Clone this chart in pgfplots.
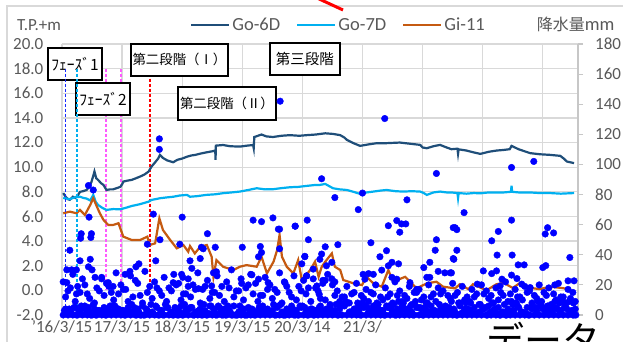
\documentclass[border=0pt]{standalone}
\usepackage{pgfplots}
\pgfplotsset{compat=1.18}
\usepackage{fontspec}
\setmainfont{Carlito}
\newfontfamily\jp{Noto Sans CJK JP}
\definecolor{gd}{RGB}{31,78,121}
\definecolor{gs}{RGB}{0,176,240}
\definecolor{gi}{RGB}{197,90,17}
\definecolor{rain}{RGB}{0,0,255}
\definecolor{gridc}{RGB}{217,217,217}
\definecolor{tickc}{RGB}{89,89,89}
\definecolor{pinkc}{RGB}{255,90,255}
\definecolor{bluedash}{RGB}{20,40,255}
\pgfplotsset{
  base/.style={width=516pt, height=271pt, scale only axis, xmin=0, xmax=8.586,
    every tick label/.append style={font=\fontsize{17}{17}\selectfont, text=tickc}},
}
\begin{document}
\begin{tikzpicture}
\begin{scope}[x=1pt,y=1pt,shift={(-62pt,-26pt)}]
\useasboundingbox (0,0) rectangle (623,341);
\fill[white] (0,0) rectangle (623,341);
\draw[gridc, line width=1.2pt] (7,-10) -- (7,335) -- (640,335);
\node[anchor=west, inner sep=0pt, text=tickc, font=\fontsize{17}{17}\selectfont] at (17,316) {T.P.+m};
\draw[red, line width=3pt] (317,343) -- (343,331);
\node[anchor=base west, inner sep=0pt, font=\jp\fontsize{38}{38}\selectfont] at (486,-13) {データ};
\end{scope}
\begin{axis}[base,
  ymin=-2, ymax=20,
  clip mode=individual,
  xtick={0,1,2,3,4,5,6,7,8},
  xticklabels={’16/3/15,17/3/15,18/3/15,19/3/15,20/3/14,21/3/,,,},
  ytick={-2,0,2,4,6,8,10,12,14,16,18,20},
  yticklabel style={/pgf/number format/fixed, /pgf/number format/fixed zerofill, /pgf/number format/precision=1, /pgf/number format/assume math mode=true, anchor=east, xshift=-18.5pt, inner sep=0pt},
  xticklabel style={anchor=center, yshift=-12pt, inner sep=0pt},
  axis line style={draw=none},
  major tick length=0pt,
  grid=major, grid style={gridc, line width=1.2pt},
  legend columns=-1,
  legend style={at={(0.248,1)}, anchor=west, yshift=19pt, draw=none, fill=none, inner sep=0pt,
    font=\fontsize{18.5}{19}\selectfont, text=tickc, nodes={inner sep=2pt},
    /tikz/every even column/.append style={column sep=14pt}},
  legend image code/.code={\draw[#1, line width=2.2pt] (0pt,0pt) -- (38pt,0pt);},
]
\addplot[forget plot, pinkc, line width=1.5pt, dash pattern=on 3pt off 2pt] coordinates {(0.732,18) (0.732,0)};
\addplot[forget plot, pinkc, line width=1.5pt, dash pattern=on 3pt off 2pt] coordinates {(0.985,18) (0.985,0)};
\addplot[forget plot, red, line width=1.5pt, dash pattern=on 3pt off 2pt] coordinates {(1.464,18) (1.464,0)};
\addplot[gd, line width=2.2pt] coordinates {
(0.02,7.9)(0.06,7.6)(0.10,7.4)(0.13,7.35)(0.18,7.6)(0.22,7.5)(0.26,7.7)(0.30,8.0)(0.35,8.05)(0.41,8.15)(0.45,8.4)(0.49,8.8)(0.52,9.3)(0.54,9.65)(0.57,9.1)(0.60,8.97)(0.65,8.7)(0.69,8.56)(0.74,8.15)(0.80,8.2)(0.85,8.2)(0.91,8.3)(0.97,8.4)(1.00,8.6)(1.02,8.83)(1.08,8.9)(1.16,8.97)(1.23,9.1)(1.30,9.24)(1.37,9.4)(1.44,9.64)(1.49,10.05)(1.55,10.4)(1.60,10.7)(1.63,11.0)(1.68,10.75)(1.75,10.55)(1.85,10.4)(1.92,10.6)(2.00,10.7)(2.08,10.85)(2.15,10.95)(2.22,11.0)(2.30,11.1)(2.40,11.2)(2.51,11.3)(2.55,11.35)(2.555,10.6)(2.56,11.75)(2.68,11.8)(2.80,11.7)(2.96,11.67)(3.08,11.75)(3.18,11.8)(3.19,11.55)(3.20,12.45)(3.26,12.55)(3.32,12.65)(3.40,12.5)(3.51,12.45)(3.65,12.55)(3.79,12.6)(3.95,12.55)(4.07,12.6)(4.22,12.65)(4.38,12.75)(4.51,12.7)(4.63,12.6)(4.70,12.4)(4.74,12.22)(4.85,11.95)(4.96,11.73)(5.10,11.85)(5.24,11.95)(5.40,11.95)(5.62,12.0)(5.80,11.9)(5.96,11.81)(6.00,11.6)(6.07,11.54)(6.18,11.7)(6.29,11.81)(6.40,11.6)(6.48,11.46)(6.58,11.5)(6.59,11.1)(6.60,11.45)(6.73,11.35)(6.85,11.2)(6.96,11.08)(7.10,11.25)(7.23,11.35)(7.35,11.4)(7.45,11.46)(7.48,11.73)(7.60,11.45)(7.79,11.14)(7.95,11.05)(8.12,11.0)(8.29,10.92)(8.35,10.7)(8.40,10.46)(8.52,10.33)};
\addlegendentry{Go-6D}
\addplot[gs, line width=2.2pt] coordinates {
(0.02,7.5)(0.08,7.45)(0.13,7.4)(0.18,7.5)(0.22,7.55)(0.30,7.6)(0.36,7.5)(0.41,7.45)(0.47,7.3)(0.52,7.75)(0.56,7.2)(0.60,6.93)(0.67,6.7)(0.74,6.53)(0.85,6.6)(0.97,6.58)(1.06,6.7)(1.16,6.85)(1.30,7.0)(1.44,7.2)(1.49,7.34)(1.63,7.48)(1.75,7.55)(1.85,7.6)(1.96,7.7)(2.08,7.75)(2.13,7.6)(2.25,7.65)(2.40,7.75)(2.55,7.8)(2.68,7.89)(2.82,7.95)(2.96,8.02)(3.10,8.15)(3.24,8.29)(3.38,8.2)(3.51,8.21)(3.65,8.3)(3.79,8.37)(3.93,8.4)(4.07,8.48)(4.20,8.55)(4.29,8.56)(4.38,8.64)(4.45,8.45)(4.51,8.29)(4.62,8.2)(4.74,8.15)(4.85,8.0)(4.96,7.83)(5.07,7.95)(5.18,8.02)(5.30,8.1)(5.40,8.15)(5.55,8.05)(5.68,8.02)(5.82,8.05)(5.96,8.02)(6.02,7.9)(6.07,7.75)(6.18,7.95)(6.29,8.02)(6.40,7.95)(6.48,7.95)(6.58,7.9)(6.59,7.5)(6.60,7.9)(6.73,7.85)(6.85,7.9)(6.96,7.88)(7.10,7.95)(7.23,7.95)(7.35,7.95)(7.47,8.0)(7.48,8.5)(7.49,8.0)(7.60,7.95)(7.79,7.95)(7.95,7.9)(8.12,7.9)(8.30,7.85)(8.52,7.9)};
\addlegendentry{Go-7D}
\addplot[gi, line width=2.2pt] coordinates {
(0.02,6.26)(0.13,6.39)(0.24,6.26)(0.30,6.53)(0.38,6.12)(0.47,6.94)(0.52,7.48)(0.58,6.8)(0.63,6.26)(0.69,5.72)(0.77,5.31)(0.85,5.31)(0.94,5.45)(1.02,4.36)(1.16,4.09)(1.30,4.09)(1.42,4.36)(1.46,3.68)(1.55,3.82)(1.62,5.85)(1.68,4.9)(1.80,4.09)(1.91,3.41)(2.02,3.68)(2.10,3.14)(2.13,3.6)(2.21,3.0)(2.30,3.54)(2.41,3.68)(2.49,2.73)(2.52,1.1)(2.57,2.46)(2.68,1.92)(2.85,1.65)(2.96,1.92)(3.07,2.05)(3.24,1.92)(3.32,2.73)(3.41,1.38)(3.52,2.33)(3.58,3.28)(3.62,4.5)(3.66,2.73)(3.74,1.92)(3.85,1.38)(3.93,2.46)(3.99,0.84)(4.13,1.65)(4.21,2.33)(4.27,1.1)(4.32,1.9)(4.38,2.33)(4.49,3.0)(4.54,1.92)(4.63,1.65)(4.68,0.84)(4.85,0.57)(4.99,0.43)(5.07,1.1)(5.18,0.57)(5.32,0.3)(5.43,1.65)(5.51,0.7)(5.71,1.1)(5.90,0.16)(6.07,0.57)(6.23,0.7)(6.34,0.3)(6.54,0.16)(6.62,0.5)(6.76,0.1)(6.84,0.5)(7.06,0.0)(7.23,0.5)(7.35,0.6)(7.50,0.2)(7.62,0.6)(7.79,0.2)(7.95,0.1)(8.12,0.3)(8.30,0.2)(8.45,0.1)};
\addlegendentry{Gi-11}
\addlegendimage{empty legend}
\addlegendentry{\hspace*{34pt}{\jp\fontsize{16}{16}\selectfont 降水量}mm}
\node[draw=black, line width=1.7pt, fill=white, minimum width=54pt, minimum height=32pt, inner sep=0pt, font=\jp\fontsize{15.5}{16}\selectfont] at (axis cs:0.682,15.55) {ﾌｪｰｽﾞ2};
\node[draw=black, line width=1.7pt, fill=white, minimum width=97pt, minimum height=32pt, inner sep=0pt, font=\jp\fontsize{13.4}{14}\selectfont] at (axis cs:1.955,18.72) {第二段階（Ⅰ）};
\node[draw=black, line width=1.7pt, fill=white, minimum width=98pt, minimum height=33pt, inner sep=0pt, font=\jp\fontsize{13.4}{14}\selectfont] at (axis cs:2.745,15.19) {第二段階（Ⅱ）};
\node[draw=black, line width=1.7pt, fill=white, minimum width=70pt, minimum height=32pt, inner sep=0pt, font=\jp\fontsize{14.5}{15}\selectfont] at (axis cs:4.043,18.80) {第三段階};
\node[draw=black, line width=1.7pt, fill=white, minimum width=54pt, minimum height=32pt, inner sep=0pt, font=\jp\fontsize{15.5}{16}\selectfont] at (axis cs:0.216,18.40) {ﾌｪｰｽﾞ1};
\addplot[forget plot, bluedash, line width=1.6pt, dash pattern=on 3pt off 2pt] coordinates {(0.06,18) (0.06,-2)};
\addplot[forget plot, gs, line width=1.6pt, dash pattern=on 3pt off 2pt] coordinates {(0.245,18) (0.245,-2)};
\end{axis}
\begin{axis}[base,
  ymin=0, ymax=180,
  axis x line=none, axis y line*=right,
  ytick={0,20,40,60,80,100,120,140,160,180},
  yticklabel style={anchor=west, xshift=12pt, inner sep=0pt, /pgf/number format/assume math mode=true},
  y axis line style={draw=gridc!80!gray, line width=1.2pt},
  tick align=outside, major tick length=5pt, tick style={draw=gridc!80!gray, line width=1.2pt},
  clip=false,
]
\addplot[only marks, mark=*, mark size=3.3pt, mark options={draw=rain, fill=rain}] coordinates {
(0.02,0)(0.10,0)(0.18,0)(0.26,0)(0.34,0)(0.42,0)(0.50,0)(0.58,0)(0.66,0)(0.74,0)(0.82,0)(0.90,0)(0.98,0)(1.06,0)(1.14,0)(1.22,0)(1.30,0)(1.38,0)(1.46,0)(1.54,0)(1.62,0)(1.70,0)(1.78,0)(1.86,0)(1.94,0)(2.02,0)(2.10,0)(2.18,0)(2.26,0)(2.34,0)(2.42,0)(2.50,0)(2.58,0)(2.66,0)(2.74,0)(2.82,0)(2.90,0)(2.98,0)(3.06,0)(3.14,0)(3.22,0)(3.30,0)(3.38,0)(3.46,0)(3.54,0)(3.62,0)(3.70,0)(3.78,0)(3.86,0)(3.94,0)(4.02,0)(4.10,0)(4.18,0)(4.26,0)(4.34,0)(4.42,0)(4.50,0)(4.58,0)(4.66,0)(4.74,0)(4.82,0)(4.90,0)(4.98,0)(5.06,0)(5.14,0)(5.22,0)(5.30,0)(5.38,0)(5.46,0)(5.54,0)(5.62,0)(5.70,0)(5.78,0)(5.86,0)(5.94,0)(6.02,0)(6.10,0)(6.18,0)(6.26,0)(6.34,0)(6.42,0)(6.50,0)(6.58,0)(6.66,0)(6.74,0)(6.82,0)(6.90,0)(6.98,0)(7.06,0)(7.14,0)(7.22,0)(7.30,0)(7.38,0)(7.46,0)(7.54,0)(7.62,0)(7.70,0)(7.78,0)(7.86,0)(7.94,0)(8.02,0)(8.10,0)(8.18,0)(8.26,0)(8.34,0)(8.42,0)(8.50,0)(8.55,0)
(0.04,3)(0.08,1)(0.12,4)(0.16,1)(0.20,5)(0.24,0)(0.28,2)(0.32,6)(0.36,5)(0.40,3)(0.44,5)(0.48,0)(0.52,7)(0.56,0)(0.60,3)(0.64,2)(0.68,3)(0.72,0)(0.76,4)(0.80,6)
(0.84,2)(0.88,6)(0.92,4)(0.96,3)(1.00,3)(1.04,0)(1.08,3)(1.12,2)(1.16,7)(1.20,5)(1.24,0)(1.28,2)(1.32,0)(1.36,0)(1.40,4)(1.44,1)(1.48,7)(1.52,1)(1.56,6)(1.60,0)
(1.64,3)(1.68,0)(1.72,7)(1.76,5)(1.80,1)(1.84,0)(1.88,5)(1.92,0)(1.96,2)(2.00,0)(2.04,7)(2.08,4)(2.12,4)(2.16,5)(2.20,0)(2.24,2)(2.28,3)(2.32,0)(2.36,7)(2.40,0)
(2.44,1)(2.48,6)(2.52,4)(2.56,0)(2.60,6)(2.64,2)(2.68,0)(2.72,0)(2.76,6)(2.80,2)(2.84,0)(2.88,0)(2.92,0)(2.96,6)(3.00,2)(3.04,0)(3.08,0)(3.12,3)(3.16,4)(3.20,0)
(3.24,2)(3.28,5)(3.32,3)(3.36,4)(3.40,2)(3.44,1)(3.48,1)(3.52,7)(3.56,0)(3.60,6)(3.64,7)(3.68,0)(3.72,0)(3.76,2)(3.80,1)(3.84,4)(3.88,0)(3.92,0)(3.96,6)(4.00,6)
(4.04,5)(4.08,0)(4.12,3)(4.16,4)(4.20,0)(4.24,2)(4.28,5)(4.32,2)(4.36,3)(4.40,4)(4.44,2)(4.48,1)(4.52,1)(4.56,7)(4.60,0)(4.64,6)(4.68,7)(4.72,9)(4.76,8)(4.80,2)
(4.84,1)(4.88,4)(4.92,8)(4.96,0)(5.00,8)(5.04,6)(5.08,5)(5.12,1)(5.16,3)(5.20,2)(5.24,8)(5.28,2)(5.32,3)(5.36,0)(5.40,6)(5.44,6)(5.48,4)(5.52,7)(5.56,0)(5.60,9)
(5.64,3)(5.68,8)(5.72,4)(5.76,4)(5.80,6)(5.84,0)(5.88,9)(5.92,5)(5.96,5)(6.00,0)(6.04,5)(6.08,8)(6.12,2)(6.16,2)(6.20,3)(6.24,1)(6.28,7)(6.32,2)(6.36,5)(6.40,3)
(6.44,5)(6.48,9)(6.52,4)(6.56,0)(6.60,8)(6.64,1)(6.68,2)(6.72,8)(6.76,4)(6.80,8)(6.84,1)(6.88,1)(6.92,1)(6.96,7)(7.00,4)(7.04,5)(7.08,0)(7.12,2)(7.16,8)(7.20,4)
(7.24,1)(7.28,0)(7.32,2)(7.36,7)(7.40,0)(7.44,1)(7.48,9)(7.52,3)(7.56,8)(7.60,5)(7.64,2)(7.68,1)(7.72,1)(7.76,0)(7.80,5)(7.84,5)(7.88,5)(7.92,9)(7.96,6)(8.00,4)
(8.04,4)(8.08,6)(8.12,2)(8.16,2)(8.20,9)(8.24,4)(8.28,8)(8.32,9)(8.36,5)(8.40,4)(8.44,9)(8.48,3)(8.52,0)
(0.06,4)(0.14,2)(0.22,5)(0.30,3)(0.38,6)(0.46,2)(0.54,4)(0.62,3)(0.70,5)(0.78,2)(0.86,6)(0.94,4)(1.02,3)(1.10,5)(1.18,2)(1.26,4)(1.34,6)(1.42,3)(1.50,2)(1.58,5)
(1.66,3)(1.74,5)(1.82,2)(1.90,4)(1.98,6)(2.06,3)(2.14,5)(2.22,2)(2.30,4)(2.38,3)(2.46,6)(2.54,2)(2.62,5)(2.70,4)(2.78,3)(2.86,6)(2.94,2)(3.02,4)(3.10,5)(3.18,3)
(3.26,2)(3.34,6)(3.42,4)(3.50,3)(3.58,5)(3.66,2)(3.74,4)(3.82,6)(3.90,3)(3.98,5)(4.06,2)(4.14,4)(4.22,3)(4.30,6)(4.38,2)(4.46,5)(4.54,3)(4.62,4)(4.70,6)(4.78,2)
(4.86,4)(4.94,3)(5.02,5)(5.10,2)(5.18,6)(5.26,4)(5.34,3)(5.42,5)(5.50,2)(5.58,4)(5.66,6)(5.74,3)(5.82,2)(5.90,5)(5.98,4)(6.06,3)(6.14,6)(6.22,2)(6.30,4)(6.38,5)
(6.46,3)(6.54,2)(6.62,6)(6.70,4)(6.78,3)(6.86,5)(6.94,2)(7.02,4)(7.10,6)(7.18,3)(7.26,5)(7.34,2)(7.42,4)(7.50,3)(7.58,6)(7.66,2)(7.74,5)(7.82,4)(7.90,3)(7.98,6)
(8.06,2)(8.14,4)(8.22,5)(8.30,3)(8.38,6)(8.46,2)(8.54,4)
(0.06,12)(0.14,18)(0.22,9)(0.30,15)(0.38,20)(0.46,11)(0.54,8)(0.62,16)(0.70,13)(0.78,19)(0.86,10)(0.94,14)(1.02,17)(1.10,9)(1.18,12)(1.26,21)(1.34,8)(1.42,15)(1.50,11)(1.58,18)
(1.66,13)(1.74,9)(1.82,16)(1.90,20)(1.98,10)(2.06,14)(2.14,12)(2.22,17)(2.30,8)(2.38,19)(2.46,11)(2.54,15)(2.62,13)(2.70,9)(2.78,18)(2.86,12)(2.94,16)(3.02,10)(3.10,20)(3.18,14)
(3.26,9)(3.34,13)(3.42,17)(3.50,11)(3.58,15)(3.66,8)(3.74,19)(3.82,12)(3.90,10)(3.98,16)(4.06,14)(4.14,9)(4.22,18)(4.30,11)
(4.38,10)(4.46,7)(4.54,13)(4.62,9)(4.70,12)(4.78,8)(4.86,15)(4.94,6)(5.02,11)(5.10,9)(5.18,14)(5.26,7)(5.34,10)(5.42,12)(5.50,8)(5.58,13)(5.66,9)(5.74,11)(5.82,7)(5.90,15)
(5.98,10)(6.06,8)(6.14,12)(6.22,9)(6.30,14)(6.38,6)(6.46,11)(6.54,13)(6.62,8)(6.70,10)(6.78,9)(6.86,12)(6.94,7)(7.02,14)(7.10,11)(7.18,8)(7.26,10)(7.34,13)(7.42,9)(7.50,7)
(7.58,12)(7.66,10)(7.74,15)(7.82,8)(7.90,11)(7.98,9)(8.06,13)(8.14,7)(8.22,10)(8.30,12)(8.38,8)(8.46,11)(8.54,9)
(0.02,22)(0.10,16)(0.18,27)(0.26,19)(0.34,24)(0.42,14)(0.50,30)(0.58,18)(0.66,25)(0.74,21)(0.82,15)(0.90,28)(0.98,20)(1.06,17)(1.14,26)(1.22,23)(1.30,13)(1.38,29)(1.46,19)(1.54,22)
(1.62,16)(1.70,25)(1.78,18)(1.86,27)(1.94,21)(2.02,14)(2.10,24)(2.18,20)(2.26,28)(2.34,17)(2.42,23)(2.50,15)(2.58,26)(2.66,19)(2.74,22)(2.82,30)(2.90,16)(2.98,24)(3.06,18)(3.14,27)
(3.22,21)(3.30,13)(3.38,25)(3.46,20)(3.54,17)(3.62,28)(3.70,22)(3.78,15)(3.86,26)(3.94,19)(4.02,23)(4.10,18)(4.18,24)(4.26,16)(4.34,21)(4.42,27)(4.50,20)
(4.58,16)(4.66,12)(4.74,19)(4.82,14)(4.90,21)(4.98,13)(5.06,17)(5.14,15)(5.22,20)(5.30,12)(5.38,18)(5.46,14)(5.54,22)(5.62,16)(5.70,13)(5.78,19)(5.86,15)(5.94,17)(6.02,12)(6.10,20)
(6.18,14)(6.26,18)(6.34,16)(6.42,13)(6.50,21)(6.58,15)(6.66,19)(6.74,12)(6.82,17)(6.90,14)(6.98,20)(7.06,16)(7.14,13)(7.22,18)(7.30,15)(7.38,22)(7.46,14)(7.54,17)(7.62,12)(7.70,19)
(7.78,16)(7.86,13)(7.94,20)(8.02,15)(8.10,18)(8.18,14)(8.26,21)(8.34,12)(8.42,17)(8.50,15)
(1.62,117)(1.62,110)(0.44,86)(0.52,83)(0.45,65)(1.52,67)(2.00,65)(0.31,51)(0.49,54)(1.42,47)(1.63,50)(0.13,43)(1.56,36)(0.30,36)(0.47,37)
(0.08,30)(0.16,30)(0.24,30)(0.44,32)(1.28,34)(1.23,32)(1.13,29)(1.05,27)(1.99,27)(2.01,25)(1.85,21.5)(2.10,19)(0.55,25)(0.66,24)(0.77,21.5)(0.85,19)(0.08,21.5)(0.24,14)
(3.18,63)(3.32,62)(3.51,64.5)(3.62,57)(3.88,59)(4.08,63)(2.42,54)(4.10,50)(3.62,44)(3.00,45)(3.30,45.5)(2.35,44)(2.55,45)(3.32,41.5)(3.27,38.7)(4.04,38.7)(4.32,40.5)
(2.30,37.5)(2.13,36)(2.16,31)(2.57,28.7)(3.99,34)(4.07,26)(4.18,30.5)(3.16,26.7)(3.27,23.8)(3.71,21.5)(3.43,21.5)(2.99,21)(4.24,19.3)(2.27,17.5)(2.49,19.3)(4.28,13.8)
(6.23,94)(4.32,90.5)(4.54,78)(5.00,81)(4.93,70)(5.74,76.5)(5.57,62.7)(5.65,60.5)(5.72,60.5)(5.43,59.3)(5.62,55)(6.51,58)(6.23,50)(5.14,48)(4.59,46.7)(4.38,45.3)
(5.40,42.7)(6.21,43)(5.29,38.7)(4.29,37)(5.49,35)(5.60,34)(5.43,32.7)(5.32,29.8)(6.02,31.5)(6.51,37.5)(4.49,35)(4.40,32.7)(6.12,35)(6.26,29)(6.37,28)(6.48,28)
(5.01,27)(5.10,27.5)(5.18,27)(5.04,23.8)(4.34,23)(4.54,22)(4.49,24)(4.38,23)(5.49,25)(5.57,23.8)(5.79,21.5)(6.07,25)(6.12,25)(5.90,17)
(7.48,98)(7.85,102)(6.69,68)(7.48,63)(6.54,58)(6.57,56.7)(8.08,58)(8.04,53.8)(8.18,54.5)(7.26,55.5)(7.15,49.3)(6.57,43)(6.52,37)(7.24,39.8)(7.49,39.8)
(7.59,33.3)(7.69,33.3)(8.45,38.2)(8.00,31.5)(8.05,32.8)(7.01,29.3)(7.15,27.5)(7.23,29.3)(7.32,23.8)(7.48,26.5)(7.57,24.2)(8.42,22.7)(8.52,22.7)(6.46,28)
(6.91,20.5)(7.29,19.3)(7.65,20.5)(7.79,18.2)(8.20,20)(8.51,8)
(3.63,142)(5.37,130.5)(0.32,54)(0.48,51.5)(1.96,47)(2.32,45)(2.52,28)(3.60,57)(3.88,59)(4.04,39)(4.07,26)
};
\end{axis}
\end{tikzpicture}
\end{document}
